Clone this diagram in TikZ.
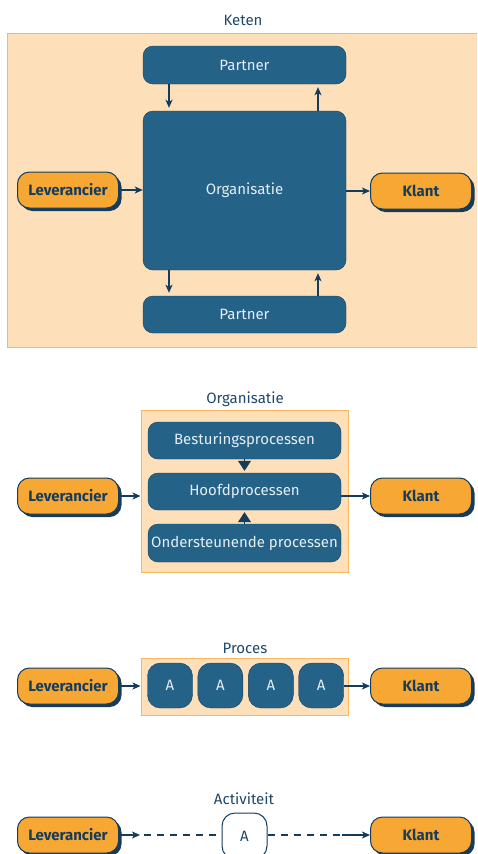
\documentclass[tikz,border=0pt]{standalone}
\usepackage{fontspec}
\setmainfont{Fira Sans}
\usetikzlibrary{positioning,arrows.meta,shadows}

\definecolor{blauw}{RGB}{36,98,136}
\definecolor{donker}{RGB}{22,60,92}
\definecolor{oranje}{RGB}{247,167,51}
\definecolor{perzik}{RGB}{253,224,186}
\definecolor{rand}{RGB}{248,184,96}
\definecolor{tekst}{RGB}{30,72,108}
\definecolor{licht}{RGB}{228,238,245}

\begin{document}
\begin{tikzpicture}[x=1pt, y=-1pt, >={Stealth[length=8pt,width=7pt,inset=2pt]},
                    font=\fontsize{15}{18}\selectfont,
                    blok/.style={draw=donker, fill=blauw, text=licht, rounded corners=10pt,
                                 inner sep=0pt, minimum width=#1},
                    blok/.default=203pt,
                    partij/.style={draw=donker, line width=1pt, fill=oranje, text=donker,
                                   font=\fontsize{15}{18}\selectfont\bfseries, rounded corners=12pt,
                                   inner sep=0pt, minimum width=101pt, minimum height=36pt,
                                   drop shadow={shadow xshift=3pt, shadow yshift=-3pt, fill=donker, opacity=1}},
                    kader/.style={draw=rand, fill=perzik, line width=1pt, inner sep=0pt},
                    titel/.style={text=tekst},
                    pijl/.style={->, draw=donker, line width=1.2pt},
                    streep/.style={draw=donker, line width=1.2pt, dash pattern=on 7pt off 6pt},
                    punt/.style={-{Triangle[length=10pt,width=13pt]}, draw=donker, fill=donker, line width=0.8pt}
                    ]
    \clip (0,0) rectangle (477,854);

    % Keten
    \node (ketentitel) [titel] at (243,20) {Keten};
    \node (keten) [kader, minimum width=484pt, minimum height=314pt] at (249,190) {};
    \node (partner1) [blok, minimum height=38pt] at (244.5,65) {Partner};
    \node (org) [blok, minimum height=159pt] at (244.5,190.5) {Organisatie};
    \node (partner2) [blok, minimum height=37pt] at (244.5,314.5) {Partner};
    \node (lev1) [partij] at (68,190) {Leverancier};
    \node (klant1) [partij] at (421,191) {Klant};
    \draw[pijl] (lev1.east) -- (lev1.east -| org.west);
    \draw[pijl] (org.east |- klant1.west) -- (klant1.west);
    \draw[pijl, shorten >=3pt] ([xshift=-75.5pt]partner1.south) -- ([xshift=-75.5pt]org.north);
    \draw[pijl, shorten >=3pt] ([xshift=73.5pt]org.north) -- ([xshift=73.5pt]partner1.south);
    \draw[pijl, shorten >=3pt] ([xshift=-75.5pt]org.south) -- ([xshift=-75.5pt]partner2.north);
    \draw[pijl, shorten >=3pt] ([xshift=73.5pt]partner2.north) -- ([xshift=73.5pt]org.south);

    % Organisatie
    \node (orgtitel) [titel] at (245,399) {Organisatie};
    \node (kader2) [kader, minimum width=207pt, minimum height=162pt] at (244.5,491) {};
    \node (best) [blok=193pt, minimum height=37pt] at (244.5,440.5) {Besturingsprocessen};
    \node (hoofd) [blok=193pt, minimum height=37pt] at (244.5,491.5) {Hoofdprocessen};
    \node (onder) [blok=193pt, minimum height=38pt] at (244.5,543) {Ondersteunende processen};
    \node (lev2) [partij] at (68,496) {Leverancier};
    \node (klant2) [partij] at (421,496) {Klant};
    \draw[punt, shorten >=2pt] (best.south) -- (hoofd.north);
    \draw[punt, shorten >=2pt] (onder.north) -- (hoofd.south);
    \draw[pijl] (lev2.east) -- (lev2.east -| kader2.west);
    \draw[pijl] (hoofd.east |- klant2.west) -- (klant2.west);

    % Proces
    \node (procestitel) [titel] at (245,648) {Proces};
    \node (kader3) [kader, minimum width=207pt, minimum height=57pt] at (244.5,687) {};
    \node (a1) [blok=45pt, minimum height=45pt, rounded corners=13pt] at (170,685.5) {A};
    \node (a2) [blok=45pt, minimum height=45pt, rounded corners=13pt, right=5pt of a1] {A};
    \node (a3) [blok=45pt, minimum height=45pt, rounded corners=13pt, right=5pt of a2] {A};
    \node (a4) [blok=45pt, minimum height=45pt, rounded corners=13pt, right=5pt of a3] {A};
    \node (lev3) [partij] at (68,686) {Leverancier};
    \node (klant3) [partij] at (421,686) {Klant};
    \draw[pijl] (lev3.east) -- (lev3.east -| kader3.west);
    \draw[pijl] (a4.east |- klant3.west) -- (klant3.west);

    % Activiteit
    \node (acttitel) [titel] at (244,799) {Activiteit};
    \node (act) [draw=donker, fill=white, text=tekst, line width=1pt, rounded corners=13pt,
                 minimum width=45pt, minimum height=46pt, inner sep=0pt] at (244.5,836) {A};
    \node (lev4) [partij] at (68,835) {Leverancier};
    \node (klant4) [partij] at (421,835) {Klant};
    \coordinate (s1) at (140,835);
    \coordinate (s2) at (342,835);
    \draw[pijl] (lev4.east) -- (s1);
    \draw[streep] ([xshift=4pt]s1) -- (act.west |- s1);
    \draw[streep] (act.east |- s2) -- (s2);
    \draw[pijl] (s2) -- (klant4.west);
\end{tikzpicture}
\end{document}
